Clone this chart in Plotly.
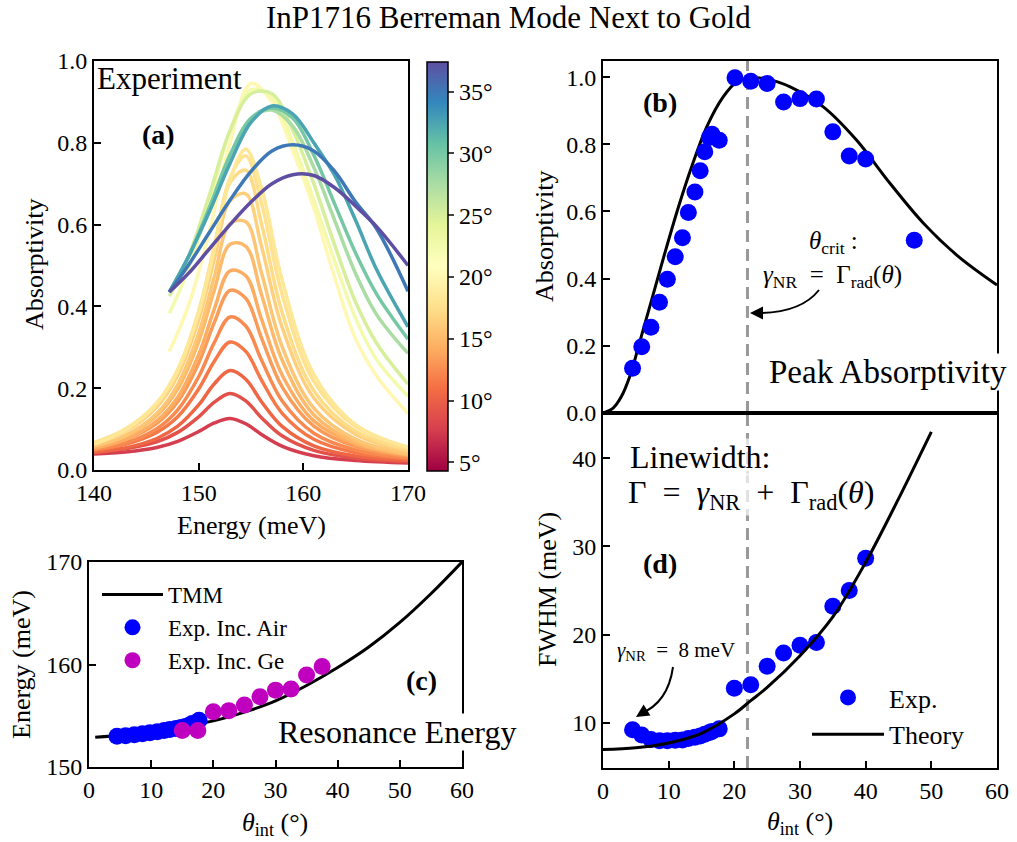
import plotly.graph_objects as go
from plotly.colors import sample_colorscale

W, H = 1017, 842
FONT = "Liberation Serif"
SP = "\u2002"  # en space, to mimic the wider math spacing of the original


def px(x):
    return x / W


def py(y):
    return 1 - y / H


# ---------------- data ----------------
# (a) measured spectra, air incidence
E_air = [140, 143, 146, 148, 150, 151.5, 153, 154.5, 156, 158, 161, 165, 170]
air_angle = [7.6, 9.0, 10.4, 11.5, 12.4, 13.3, 14.2, 15.0, 15.8, 16.5, 17.2, 17.8, 18.3]
air_spectra = [
    [.039, .044, .055, .070, .094, .115, .126, .113, .087, .058, .035, .023, .017],
    [.044, .052, .069, .092, .130, .166, .187, .169, .128, .083, .048, .029, .020],
    [.043, .054, .077, .107, .159, .211, .243, .222, .167, .106, .059, .034, .023],
    [.049, .063, .092, .130, .198, .266, .313, .290, .220, .138, .075, .042, .027],
    [.049, .066, .101, .147, .228, .312, .374, .352, .269, .168, .090, .049, .030],
    [.054, .074, .114, .167, .261, .361, .439, .420, .323, .202, .107, .057, .034],
    [.053, .075, .120, .178, .282, .394, .487, .475, .369, .231, .120, .064, .037],
    [.059, .083, .133, .198, .314, .440, .552, .547, .429, .267, .135, .068, .037],
    [.058, .084, .138, .209, .334, .473, .602, .607, .482, .300, .151, .075, .041],
    [.064, .094, .154, .231, .367, .516, .658, .675, .547, .347, .176, .087, .047],
    [.063, .095, .159, .240, .383, .544, .703, .733, .602, .383, .194, .095, .051],
    [.067, .100, .164, .246, .389, .548, .714, .768, .653, .427, .217, .106, .056],
    [.064, .098, .163, .244, .383, .540, .710, .785, .690, .462, .234, .111, .055],
]
# (a) measured spectra, Ge incidence
E_ge = [147.2, 149, 151, 153, 155, 157, 159, 161, 163, 165, 167, 170]
ge_angle = [20, 22.5, 25, 27.5, 30, 32.5, 35, 37.5]
ge_spectra = [
    [.290, .40, .58, .80, .945, .90, .78, .64, .47, .32, .23, .138],
    [.383, .49, .65, .83, .930, .91, .80, .66, .51, .37, .27, .180],
    [.425, .52, .67, .83, .920, .92, .83, .70, .55, .41, .31, .210],
    [.435, .52, .64, .77, .860, .88, .84, .74, .61, .48, .38, .285],
    [.435, .52, .64, .77, .860, .885, .86, .77, .65, .53, .43, .320],
    [.435, .52, .63, .75, .850, .89, .87, .80, .72, .61, .49, .350],
    [.435, .50, .58, .66, .730, .78, .795, .78, .73, .655, .59, .437],
    [.435, .48, .54, .60, .655, .70, .722, .72, .69, .645, .595, .500],
]
cmin, cmax = 4.3, 37.4
cbar_ticks = [5, 10, 15, 20, 25, 30, 35]

# (b) peak absorptivity
theta_b = [4.5, 5.9, 7.3, 8.6, 9.8, 11.0, 12.1, 13.0, 14.0, 14.8, 15.5, 16.2, 16.6, 17.7,
           20.1, 22.5, 25.0, 27.5, 30.0, 32.5, 35.0, 37.5, 40.0, 47.4]
peak_b = [.133, .197, .255, .330, .398, .465, .522, .597, .658, .721, .778, .820, .830, .812,
          .998, .988, .981, .926, .936, .935, .837, .765, .756, .514]
theta_b_th = [0, 1.5, 2.8, 4.1, 5.5, 7.4, 9.4, 11.5, 13.5, 15.8, 18.3, 20.4, 22.4, 25,
              28.5, 33.5, 38.6, 43.7, 48.8, 54, 60]
peak_b_th = [0, .014, .049, .11, .205, .336, .475, .614, .733, .852, .941, .986, .997, .994,
             .971, .912, .8125, .684, .565, .468, .381]
theta_crit = 22

# (c) resonance energy
theta_air = [4.5, 5.9, 7.3, 8.6, 9.8, 11.0, 12.1, 13.0, 14.0, 14.8, 15.5, 16.2, 16.6, 17.7]
E_res_air = [153.0, 153.05, 153.15, 153.25, 153.35, 153.45, 153.55, 153.65, 153.75, 153.85,
             153.95, 154.1, 154.25, 154.55]
theta_ge = [15, 17.5, 20, 22.5, 25, 27.5, 30, 32.5, 35, 37.5]
E_res_ge = [153.55, 153.55, 155.4, 155.5, 156.05, 156.86, 157.5, 157.6, 158.98, 159.8]
theta_tmm = [1, 10, 20, 25, 30, 35, 40, 45, 50, 55, 60]
E_tmm = [152.9, 153.45, 154.5, 155.35, 156.45, 157.95, 159.7, 161.7, 164.1, 166.9, 170]

# (d) linewidth
theta_d = [4.5, 5.9, 7.3, 8.6, 9.8, 11.0, 12.1, 13.0, 14.0, 14.8, 15.5, 16.2, 16.6, 17.7,
           20, 22.5, 25, 27.5, 30, 32.5, 35, 37.5, 40]
fwhm_d = [9.2, 8.6, 8.1, 7.95, 7.95, 8.0, 8.05, 8.2, 8.35, 8.5, 8.7, 8.9, 9.0, 9.3,
          13.9, 14.3, 16.4, 17.9, 18.8, 19.1, 23.2, 25.0, 28.65]
theta_d_th = [0, 5, 10, 15, 20, 22.5, 25, 30, 35, 40, 45, 50]
fwhm_d_th = [6.95, 7.15, 7.7, 8.8, 11.0, 12.5, 14.0, 17.6, 22.0, 28.2, 35.4, 43.0]

BLUE = "#0000ff"
MAGENTA = "#bf00bf"

# ---------------- figure ----------------
fig = go.Figure()


def col(a):
    t = min(max((a - cmin) / (cmax - cmin), 0), 1)
    return sample_colorscale("Spectral", [t])[0]


for a, s in zip(air_angle, air_spectra):
    fig.add_trace(go.Scatter(x=E_air, y=s, mode="lines", line=dict(color=col(a), width=3.5, shape="spline"),
                             showlegend=False, xaxis="x", yaxis="y", hoverinfo="skip"))
for a, s in zip(ge_angle, ge_spectra):
    fig.add_trace(go.Scatter(x=E_ge, y=s, mode="lines", line=dict(color=col(a), width=3.5, shape="spline"),
                             showlegend=False, xaxis="x", yaxis="y", hoverinfo="skip"))
# colorbar carrier (points outside the visible range)
fig.add_trace(go.Scatter(x=[150, 150], y=[-5, -5], mode="markers",
                         marker=dict(color=[cmin, cmax], colorscale="Spectral", cmin=cmin, cmax=cmax, size=1,
                                     showscale=True,
                                     colorbar=dict(x=px(427), xanchor="left", y=py(266.5), yanchor="middle",
                                                   len=(471 - 62) / H, lenmode="fraction", thickness=21,
                                                   thicknessmode="pixels", xpad=0, ypad=0,
                                                   outlinewidth=1.5, outlinecolor="black",
                                                   tickvals=cbar_ticks, ticktext=[f"{v}°" for v in cbar_ticks],
                                                   ticks="outside", ticklen=6, tickwidth=1.5,
                                                   tickfont=dict(family=FONT, size=24, color="black"))),
                         showlegend=False, xaxis="x", yaxis="y", hoverinfo="skip"))

# (b)
fig.add_trace(go.Scatter(x=theta_b_th, y=peak_b_th, mode="lines", line=dict(color="black", width=3, shape="spline"),
                         showlegend=False, xaxis="x2", yaxis="y2"))
fig.add_trace(go.Scatter(x=theta_b, y=peak_b, mode="markers", marker=dict(color=BLUE, size=17),
                         showlegend=False, xaxis="x2", yaxis="y2", cliponaxis=False))

# (d)
fig.add_trace(go.Scatter(x=theta_d, y=fwhm_d, mode="markers", marker=dict(color=BLUE, size=17),
                         name="Exp.", legend="legend2", xaxis="x3", yaxis="y3"))
fig.add_trace(go.Scatter(x=theta_d_th, y=fwhm_d_th, mode="lines", line=dict(color="black", width=3, shape="spline"),
                         name="Theory", legend="legend2", xaxis="x3", yaxis="y3"))

# (c)
fig.add_trace(go.Scatter(x=theta_tmm, y=E_tmm, mode="lines", line=dict(color="black", width=3, shape="spline"),
                         name="TMM", legend="legend", xaxis="x4", yaxis="y4"))
fig.add_trace(go.Scatter(x=theta_air, y=E_res_air, mode="markers", marker=dict(color=BLUE, size=17),
                         name="Exp. Inc. Air", legend="legend", xaxis="x4", yaxis="y4"))
fig.add_trace(go.Scatter(x=theta_ge, y=E_res_ge, mode="markers", marker=dict(color=MAGENTA, size=17),
                         name="Exp. Inc. Ge", legend="legend", xaxis="x4", yaxis="y4"))

axis_common = dict(showline=True, linecolor="black", linewidth=2, mirror=True, ticks="inside",
                   ticklen=7, tickwidth=1.8, tickcolor="black", showgrid=False, zeroline=False,
                   automargin=False, tickfont=dict(family=FONT, size=24, color="black"))

fig.update_layout(
    width=W, height=H, margin=dict(l=0, r=0, t=0, b=0, pad=0, autoexpand=False),
    paper_bgcolor="white", plot_bgcolor="white",
    font=dict(family=FONT, color="black"),
    xaxis=dict(domain=[px(94), px(408)], range=[140, 170], tickvals=[140, 150, 160, 170], anchor="y", **axis_common),
    yaxis=dict(domain=[py(470), py(61)], range=[0, 1.0], tickvals=[0, .2, .4, .6, .8, 1.0],
               ticktext=["0.0", "0.2", "0.4", "0.6", "0.8", "1.0"], anchor="x", **axis_common),
    xaxis2=dict(domain=[px(603), px(997)], range=[0, 60], showticklabels=False, anchor="y2",
                **{**axis_common, "ticks": ""}),
    yaxis2=dict(domain=[py(413), py(61)], range=[0, 1.048], tickvals=[0, .2, .4, .6, .8, 1.0],
                ticktext=["0.0", "0.2", "0.4", "0.6", "0.8", "1.0"], anchor="x2", **axis_common),
    xaxis3=dict(domain=[px(603), px(997)], range=[0, 60], tickvals=[0, 10, 20, 30, 40, 50, 60], anchor="y3",
                **axis_common),
    yaxis3=dict(domain=[py(768), py(413)], range=[4.86, 45.14], tickvals=[10, 20, 30, 40], anchor="x3",
                **axis_common),
    xaxis4=dict(domain=[px(89), px(462)], range=[0, 60], tickvals=[0, 10, 20, 30, 40, 50, 60], anchor="y4",
                **axis_common),
    yaxis4=dict(domain=[py(767), py(562)], range=[150, 170], tickvals=[150, 160, 170], anchor="x4",
                **axis_common),
    legend=dict(x=px(97), y=py(573), xanchor="left", yanchor="top", bgcolor="rgba(0,0,0,0)",
                font=dict(family=FONT, size=23, color="black"), tracegroupgap=2, itemwidth=61),
    legend2=dict(x=px(807), y=py(674), xanchor="left", yanchor="top", bgcolor="rgba(0,0,0,0)",
                 font=dict(family=FONT, size=26, color="black"), itemwidth=72),
)

# dashed critical-angle line
for xr, yr in (("x2", "y2"), ("x3", "y3")):
    fig.add_shape(type="line", xref=xr, yref=f"{yr} domain", x0=theta_crit, x1=theta_crit, y0=0, y1=1,
                  line=dict(color="#999999", width=3, dash="12px,7px"), layer="below")

# curved arrows
fig.add_shape(type="path", xref="paper", yref="paper",
              path=f"M {px(819)},{py(290)} Q {px(800)},{py(314)} {px(754)},{py(313)}",
              line=dict(color="black", width=2))
fig.add_shape(type="path", xref="paper", yref="paper",
              path=f"M {px(673)},{py(667)} Q {px(668)},{py(703)} {px(640)},{py(714)}",
              line=dict(color="black", width=2))


def txt(s, x, y, size, xanchor="center", bg=None, angle=0):
    fig.add_annotation(text=s, x=px(x), y=py(y), xref="paper", yref="paper", showarrow=False,
                       xanchor=xanchor, yanchor="middle", textangle=angle,
                       font=dict(family=FONT, size=size, color="black"),
                       bgcolor=bg if bg else "rgba(0,0,0,0)", borderpad=0)


# arrowheads
fig.add_annotation(x=px(750), y=py(313), xref="paper", yref="paper", ax=10, ay=0, text="",
                   showarrow=True, arrowhead=2, arrowsize=1.3, arrowwidth=2, arrowcolor="black")
fig.add_annotation(x=px(636), y=py(717), xref="paper", yref="paper", ax=8, ay=-5, text="",
                   showarrow=True, arrowhead=2, arrowsize=1.3, arrowwidth=2, arrowcolor="black")

txt("InP1716 Berreman Mode Next to Gold", 508, 18, 31)
txt("Experiment", 96, 79, 31, xanchor="left")
txt("<b>(a)</b>", 158, 135, 28)
txt("<b>(b)</b>", 660, 103, 28)
txt("<b>(c)</b>", 421, 680, 28)
txt("<b>(d)</b>", 660, 563, 28)
txt("Peak Absorptivity", 768, 372, 33, xanchor="left", bg="white")
txt("Resonance Energy", 277, 732, 32, xanchor="left", bg="white")
txt("Linewidth:", 629, 457, 32, xanchor="left", bg="rgba(255,255,255,0.7)")
txt(f"Γ{SP}={SP}<i>γ</i><sub>NR</sub>{SP}+{SP}Γ<sub>rad</sub>(<i>θ</i>)", 627, 495, 32, xanchor="left",
    bg="rgba(255,255,255,0.7)")
txt("<i>θ</i><sub>crit</sub> :", 833, 242, 25)
txt(f"<i>γ</i><sub>NR</sub>{SP}={SP}Γ<sub>rad</sub>(<i>θ</i>)", 832, 276, 25)
txt(f"<i>γ</i><sub>NR</sub>{SP}={SP}8 meV", 676, 651, 21)

# axis titles
txt("Absorptivity", 34, 265, 26, angle=-90)
txt("Energy (meV)", 251, 525, 26)
txt("Absorptivity", 545, 237, 26, angle=-90)
txt("FWHM (meV)", 547, 590, 26, angle=-90)
txt("<i>θ</i><sub>int</sub> (°)", 800, 823, 26)
txt("Energy (meV)", 21, 665, 26, angle=-90)
txt("<i>θ</i><sub>int</sub> (°)", 275, 824, 26)

fig.write_html("out.html", config={"displayModeBar": False},
               post_script="document.body.style.margin='0';")
